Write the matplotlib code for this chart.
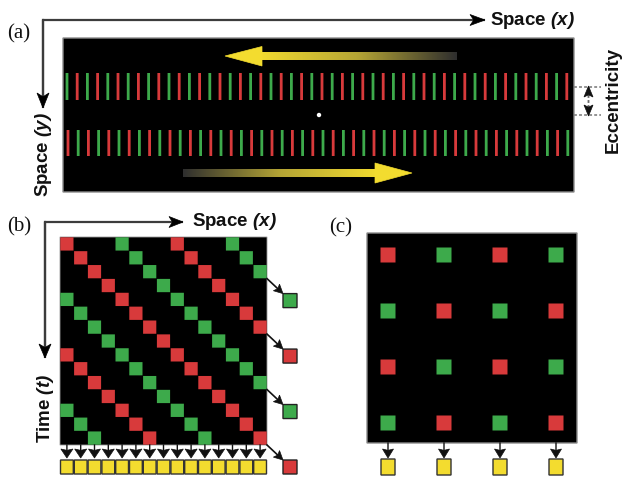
import numpy as np
import matplotlib
matplotlib.use("Agg")
import matplotlib.pyplot as plt
from matplotlib.patches import Rectangle, Polygon, Circle
from matplotlib.colors import LinearSegmentedColormap

plt.rcParams["mathtext.fontset"] = "custom"
plt.rcParams["mathtext.rm"] = "Liberation Sans:italic:bold"
plt.rcParams["mathtext.it"] = "Liberation Sans:italic:bold"
plt.rcParams["mathtext.bf"] = "Liberation Sans:bold"
plt.rcParams["path.snap"] = False

# ---- colours -------------------------------------------------------------
PALETTE = {"red": "#d83a3b", "green": "#3daa4b"}
YELLOW = "#f3dc2f"
AXIS_GREY = "#3c3c3c"

# ---- panel (a): two rows of alternating stripes ---------------------------
stripe_count = 50
top_row_cycle = ["green", "red"]
bottom_row_cycle = ["red", "green"]

# ---- panel (b): space-time plot ------------------------------------------
grid_size = 15
diagonal_period = 4
diagonal_cycle = ["red", "green"]

# ---- panel (c): sampled positions ----------------------------------------
dot_grid = [
    ["red", "green", "red", "green"],
    ["green", "red", "green", "red"],
    ["red", "green", "red", "green"],
    ["green", "red", "green", "red"],
]

panel_labels = ["(a)", "(b)", "(c)"]
space_x_label = r"Space $\mathit{(x)}$"
space_y_label = r"Space $\mathit{(y)}$"
time_label = r"Time $\mathit{(t)}$"
ecc_label = "Eccentricity"

W, H = 622, 478
fig = plt.figure(figsize=(W / 100, H / 100), dpi=100)
ax = fig.add_axes([0, 0, 1, 1])
ax.set_xlim(0, W)
ax.set_ylim(H, 0)
ax.axis("off")

label_font = dict(family="Liberation Sans", weight="bold", size=13.5, color="#111111")
panel_font = dict(family="Liberation Serif", size=15, color="#111111")


def box(xy, w, h, **kw):
    kw.setdefault("snap", False)
    ax.add_patch(Rectangle(xy, w, h, **kw))


def head(tip, direction, length, half_width, color="black", notch=0.25, z=5):
    """Filled arrowhead with its point at tip, pointing along direction."""
    d = np.asarray(direction, float)
    d /= np.linalg.norm(d)
    n = np.array([-d[1], d[0]])
    tip = np.asarray(tip, float)
    base = tip - d * length
    pts = [tip, base + n * half_width, tip - d * length * (1 - notch), base - n * half_width]
    ax.add_patch(Polygon(pts, closed=True, fc=color, ec=color, lw=0.5, zorder=z))


def axis_arrow(start, tip, lw=1.6, length=15, half_width=5.5):
    ax.plot([start[0], tip[0]], [start[1], tip[1]], color=AXIS_GREY, lw=lw,
            solid_capstyle="butt", zorder=4)
    head(tip, (tip[0] - start[0], tip[1] - start[1]), length, half_width, color="black")


def black_arrow(start, tip, lw=1.2, length=9, half_width=5, notch=0.2):
    d = np.array([tip[0] - start[0], tip[1] - start[1]], float)
    d /= np.linalg.norm(d)
    end = np.asarray(tip) - d * length * 0.6
    ax.plot([start[0], end[0]], [start[1], end[1]], color="#111111", lw=lw, zorder=4)
    head(tip, d, length, half_width, color="#111111", notch=notch)


# ========================= panel (a) ======================================
ax.text(19, 34, panel_labels[0], ha="center", va="center", **panel_font)
ax.plot([43, 43], [20, 95], color=AXIS_GREY, lw=1.6, zorder=4)
axis_arrow((42.4, 20), (485, 20))
axis_arrow((43, 20), (43, 108), half_width=6)
ax.text(490, 20, space_x_label, ha="left", va="center", **label_font)
ax.text(44, 155, space_y_label, ha="center", va="center", rotation=90, **label_font)

box((63, 38), 511, 154, fc="black", ec="#8c8c8c", lw=1.0, zorder=1)

pitch = 10.2
for i in range(stripe_count):
    xt = 67 + i * pitch
    box((xt - 1.4, 73), 2.8, 27, fc=PALETTE[top_row_cycle[i % 2]], ec="none", zorder=2)
    xb = 68 + i * pitch
    box((xb - 1.4, 130), 2.8, 26, fc=PALETTE[bottom_row_cycle[i % 2]], ec="none", zorder=2)

# fixation point
ax.add_patch(Circle((319, 115), 2.2, fc="white", ec="none", zorder=3))

# motion arrows fading in from their tails
fade = LinearSegmentedColormap.from_list("fade", ["#2e2e2e", "#b5a535", YELLOW])
ramp = np.linspace(0, 1, 256)[None, :]
ax.imshow(ramp[:, ::-1], cmap=fade, extent=(258, 457, 60, 52), aspect="auto",
          interpolation="bilinear", zorder=3)
ax.add_patch(Polygon([(225, 56), (262, 46.5), (262, 66)], fc=YELLOW, ec=YELLOW, lw=0.5, zorder=3))
ax.imshow(ramp, cmap=fade, extent=(183, 379, 177, 169), aspect="auto",
          interpolation="bilinear", zorder=3)
ax.add_patch(Polygon([(412, 173), (375, 163), (375, 183)], fc=YELLOW, ec=YELLOW, lw=0.5, zorder=3))

# eccentricity marker
for yy in (87, 115):
    ax.plot([574, 601], [yy, yy], color="#8a8a8a", lw=1.3, ls=(0, (1.6, 1.2)), zorder=2)
ax.plot([588.5, 588.5], [95, 107], color="#6a6a6a", lw=1.3, ls=(0, (1.6, 1.2)), zorder=2)
head((588.5, 86), (0, -1), 11, 4.5, color="#111111", notch=0.2)
head((588.5, 116), (0, 1), 11, 4.5, color="#111111", notch=0.2)
ax.text(613, 100, ecc_label, ha="center", va="center", rotation=90, **label_font)

# ========================= panel (b) ======================================
ax.text(19.5, 227, panel_labels[1], ha="center", va="center", **panel_font)
ax.plot([45, 45], [222, 346], color=AXIS_GREY, lw=1.6, zorder=4)
axis_arrow((44.4, 222), (183, 222), length=14, half_width=5.5)
axis_arrow((45, 222), (45, 358), length=14, half_width=6)
ax.text(192, 221, space_x_label, ha="left", va="center", **label_font)
ax.text(45, 408, time_label, ha="center", va="center", rotation=90, **label_font)

gx0, gy0, gw, gh = 60, 237, 207, 208
cw, ch = gw / grid_size, gh / grid_size
box((gx0, gy0), gw, gh, fc="black", ec="#9a9a9a", lw=0.6, zorder=1)


def diagonal_colour(r, c):
    k = c - r
    if k % diagonal_period:
        return None
    return diagonal_cycle[(k // diagonal_period) % 2]


for r in range(grid_size):
    for c in range(grid_size):
        col = diagonal_colour(r, c)
        if col:
            box((gx0 + c * cw + 0.3, gy0 + r * ch + 0.3), cw - 0.6, ch - 0.6,
                fc=PALETTE[col], ec="none", zorder=2)

# read-out of the right-most column
for r in range(grid_size):
    col = diagonal_colour(r, grid_size - 1)
    if col:
        yb = gy0 + (r + 1) * ch
        black_arrow((267, yb), (283, yb + 15), lw=1.2, length=9, half_width=4.5)
        box((283, yb + 15), 14, 14, fc=PALETTE[col], ec="#222222", lw=1.0, zorder=3)

# read-out along the bottom edge
for c in range(grid_size):
    xc = gx0 + (c + 0.5) * cw
    black_arrow((xc, gy0 + gh), (xc, 458), lw=1.0, length=9, half_width=6, notch=0.15)
    box((gx0 + c * cw + 0.5, 460), cw - 1.0, 14, fc=YELLOW, ec="#333333", lw=1.0, zorder=3)

# ========================= panel (c) ======================================
ax.text(341, 228, panel_labels[2], ha="center", va="center", **panel_font)
cx0, cy0, cs = 367, 233, 210
box((cx0, cy0), cs, cs, fc="black", ec="#8c8c8c", lw=1.0, zorder=1)
step = 56
for i, row in enumerate(dot_grid):
    for j, col in enumerate(row):
        xc = cx0 + 21 + j * step
        yc = cy0 + 22 + i * step
        box((xc - 7.5, yc - 7.5), 15, 15, fc=PALETTE[col], ec="none", zorder=2)

for j in range(len(dot_grid[0])):
    xc = cx0 + 21 + j * step
    black_arrow((xc, cy0 + cs), (xc, 458), lw=1.0, length=9, half_width=5.5, notch=0.15)
    box((xc - 7, 459), 14, 16, fc=YELLOW, ec="#333333", lw=1.0, zorder=3)

ax.set_xlim(0, W)
ax.set_ylim(H, 0)
fig.savefig("out.png", dpi=100, facecolor="white")
